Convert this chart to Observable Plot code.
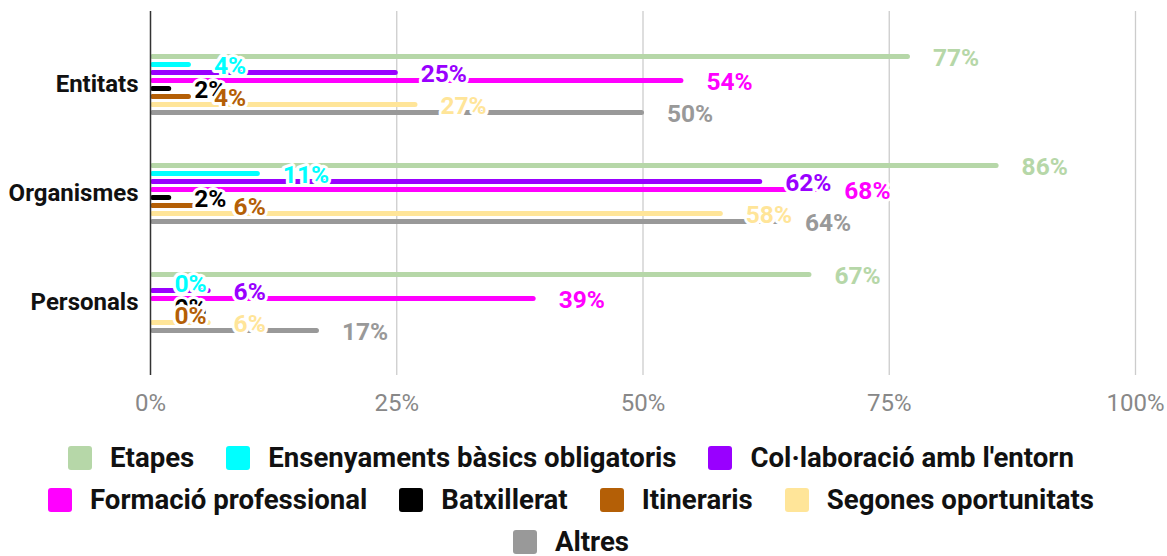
<!DOCTYPE html>
<html>
<head>
<meta charset="utf-8">
<script src="https://cdn.jsdelivr.net/npm/d3@7"></script>
<script src="https://cdn.jsdelivr.net/npm/@observablehq/plot@0.6"></script>
<style>
  body { margin: 0; background: #fff; font-family: Roboto, "Noto Sans", sans-serif; }
  #legend {
    width: 1060px; margin-left: 41px; margin-top: 12px;
    display: flex; flex-wrap: wrap; justify-content: center; column-gap: 32px;
  }
  .item { display: flex; align-items: center; height: 42px; }
  .sw { width: 24px; height: 24px; border-radius: 3px; margin-right: 18px; }
  .lab { font: bold 27.6px Roboto, sans-serif; line-height: 1; color: #111; }
</style>
</head>
<body>
<div id="chart"></div>
<div id="legend"></div>
<script>
const groups = ["Entitats", "Organismes", "Personals"];
const series = ["Etapes", "Ensenyaments bàsics obligatoris", "Col·laboració amb l'entorn", "Formació professional", "Batxillerat", "Itineraris", "Segones oportunitats", "Altres"];
const colors = ["#b6d7a8", "#00ffff", "#9900ff", "#ff00ff", "#000000", "#b45f06", "#ffe599", "#999999"];
// values per series, in order of groups (percent)
const etapes = [77, 86, 67];
const ensenyaments = [4, 11, 0];
const collaboracio = [25, 62, 6];
const formacio = [54, 68, 39];
const batxillerat = [2, 2, 0];
const itineraris = [4, 6, 0];
const segones = [27, 58, 6];
const altres = [50, 64, 17];
const xTicks = [0, 25, 50, 75, 100];

const seriesValues = [etapes, ensenyaments, collaboracio, formacio, batxillerat, itineraris, segones, altres];
const rows = series.flatMap((s, i) => groups.map((g, j) => ({group: g, series: s, value: seriesValues[i][j]})));

const step = 8;
const offset = i => (i - 3.5) * step;

const barMarks = series.map((s, i) =>
  Plot.ruleY(rows.filter(d => d.series === s && d.value > 0), {
    y: "group", x1: 0, x2: "value", stroke: "series", dy: offset(i),
    strokeWidth: 5, strokeLinecap: "round", insetLeft: 2.5, insetRight: 1
  })
);
const labelMarks = series.map((s, i) =>
  Plot.text(rows.filter(d => d.series === s), {
    y: "group", x: "value", text: d => d.value + "%", fill: "series",
    dx: 24, dy: offset(i) + 2, textAnchor: "start",
    stroke: "white", strokeWidth: 6, fontWeight: "bold", fontSize: 24.5
  })
);

const chart = Plot.plot({
  width: 1167, height: 425,
  marginLeft: 150, marginRight: 32, marginTop: 11, marginBottom: 50,
  style: {fontFamily: "Roboto, sans-serif", background: "white"},
  x: {domain: [0, 100], ticks: xTicks, tickFormat: d => d + "%", label: null, tickSize: 0, tickPadding: 19},
  y: {type: "point", domain: groups, padding: 0.665, label: null, tickSize: 0, tickPadding: 12},
  color: {domain: series, range: colors},
  marks: [
    Plot.ruleX(xTicks.slice(1), {stroke: "#cccccc", strokeWidth: 1.3}),
    ...barMarks,
    Plot.ruleX([0], {stroke: "#333333", strokeWidth: 1.5}),
    ...labelMarks,
    Plot.axisX({ticks: xTicks, tickFormat: d => d + "%", tickSize: 0, tickPadding: 18, fontSize: 24, fill: "#888888", label: null}),
    Plot.axisY({tickSize: 0, tickPadding: 12, fontSize: 24, fontWeight: "bold", fill: "#111111", label: null})
  ]
});
document.getElementById("chart").appendChild(chart);

const legend = document.getElementById("legend");
series.forEach((s, i) => {
  const it = document.createElement("div");
  it.className = "item";
  const sw = document.createElement("div");
  sw.className = "sw";
  sw.style.background = colors[i];
  const lab = document.createElement("span");
  lab.className = "lab";
  lab.textContent = s;
  it.appendChild(sw); it.appendChild(lab);
  legend.appendChild(it);
});
</script>
</body>
</html>
